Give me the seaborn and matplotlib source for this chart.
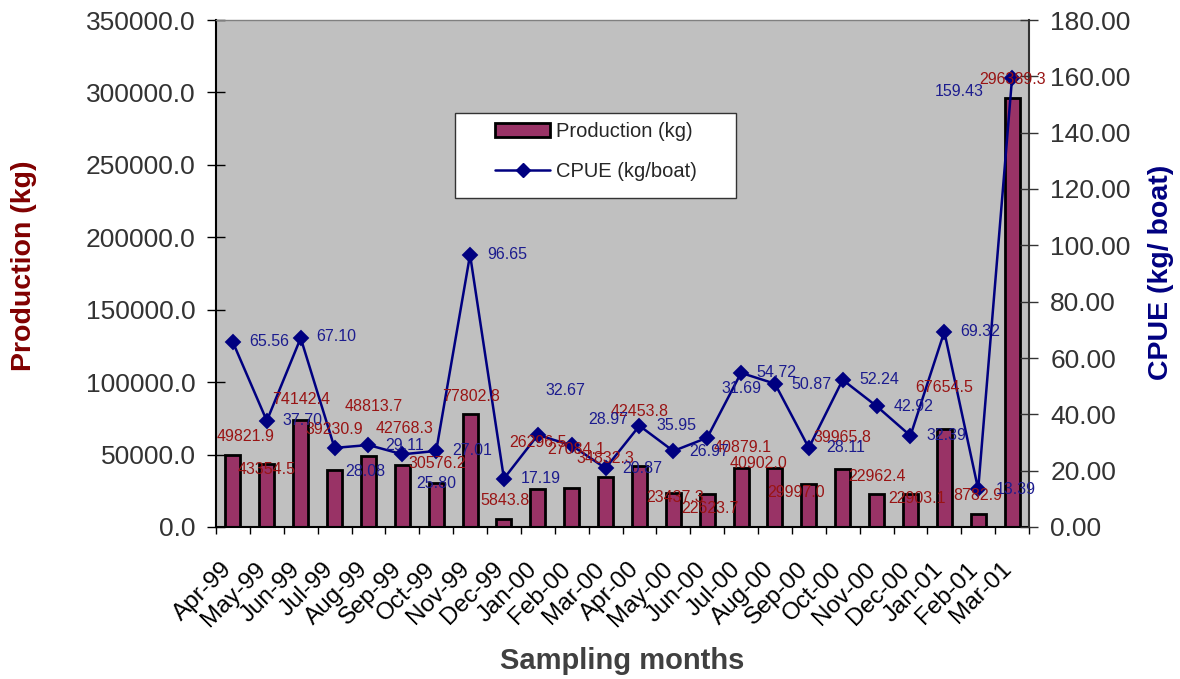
import matplotlib
matplotlib.use("Agg")
import matplotlib.pyplot as plt
import matplotlib.transforms as mtransforms
from matplotlib.patches import Patch, Rectangle
from matplotlib.lines import Line2D
from matplotlib.ticker import FixedLocator, FormatStrFormatter
import pandas as pd
import seaborn as sns

# ---- data ----
months = ["Apr-99", "May-99", "Jun-99", "Jul-99", "Aug-99", "Sep-99", "Oct-99",
          "Nov-99", "Dec-99", "Jan-00", "Feb-00", "Mar-00", "Apr-00", "May-00",
          "Jun-00", "Jul-00", "Aug-00", "Sep-00", "Oct-00", "Nov-00", "Dec-00",
          "Jan-01", "Feb-01", "Mar-01"]
production_kg = [49821.9, 43354.5, 74142.4, 39230.9, 48813.7, 42768.3, 30576.2,
                 77802.8, 5843.8, 26296.5, 27084.1, 34832.3, 42453.8, 23437.3,
                 22623.7, 40879.1, 40902.0, 29997.0, 39965.8, 22962.4, 22903.1,
                 67654.5, 8782.9, 296389.3]
cpue_kg_boat = [65.56, 37.70, 67.10, 28.08, 29.11, 25.80, 27.01, 96.65, 17.19,
                32.67, 28.97, 20.87, 35.95, 26.97, 31.69, 54.72, 50.87, 28.11,
                52.24, 42.92, 32.39, 69.32, 13.39, 159.43]
prod_ticks = [0, 50000, 100000, 150000, 200000, 250000, 300000, 350000]
cpue_ticks = [0, 20, 40, 60, 80, 100, 120, 140, 160, 180]

# data-label placement (pixel offsets from each mark)
prod_label_offsets = [(13, 18), (0, -5), (0, 20), (0, 41), (5, 50), (2, 37),
                      (1, 19), (1, 18), (1, 18), (0, 46), (5, 38), (0, 18),
                      (0, 54), (2, -4), (3, -14), (2, 20), (-16, 4), (-13, -9),
                      (0, 32), (0, 17), (7, -5), (0, 41), (0, 19), (1, 18)]
cpue_label_offsets = [(36, 1), (36, 0), (36, 1.5), (31, -24), (36, 0),
                      (33.5, -29), (36, 0), (37, 0), (37, 0), (28, 44),
                      (36.5, 26), (37, 0), (37, 0), (36, 0), (34, 49),
                      (35.5, 0), (36.5, -1), (37, 0), (37, 0), (37, 0),
                      (36, 0), (36, 0), (37.5, 0), (-53, -13.5)]

df = pd.DataFrame({"month": months, "production": production_kg,
                   "cpue": cpue_kg_boat})

BAR = "#993366"
NAVY = "#000080"
DARKRED = "#800000"
PROD_TXT = "#991414"
CPUE_TXT = "#1c1c8e"

sns.set_theme(style="white")
plt.rcParams["font.family"] = ["Liberation Sans", "DejaVu Sans"]

W, H = 1180, 679
fig = plt.figure(figsize=(W / 100, H / 100), dpi=100)
ax = fig.add_axes([216 / W, 1 - 527 / H, 813 / W, 507 / H])
ax.set_facecolor("#C0C0C0")

sns.barplot(data=df, x="month", y="production", ax=ax, color=BAR,
            saturation=1, edgecolor="black", linewidth=2, width=0.44)

ax2 = ax.twinx()
sns.pointplot(data=df, x="month", y="cpue", ax=ax2, color=NAVY,
              markers="D", linestyles="-", errorbar=None,
              markersize=7, linewidth=1.8)

n = len(months)
for a in (ax, ax2):
    a.set_xlim(-0.5, n - 0.5)
ax.set_ylim(0, 350000)
ax2.set_ylim(0, 180)

# y axes
ax.yaxis.set_major_locator(FixedLocator(prod_ticks))
ax.yaxis.set_major_formatter(FormatStrFormatter("%.1f"))
ax2.yaxis.set_major_locator(FixedLocator(cpue_ticks))
ax2.yaxis.set_major_formatter(FormatStrFormatter("%.2f"))
ax.tick_params(axis="y", direction="inout", length=12.5, width=1,
               color="black", labelsize=19, labelcolor="#333333", pad=8.5,
               left=True)
ax2.tick_params(axis="y", direction="inout", length=12.5, width=1,
                color="#333333", labelsize=19, labelcolor="#333333", pad=9,
                right=True)

# x axis: labels at category centres, tick marks at category boundaries
ax.set_xticks(range(n))
ax.set_xticklabels(months, rotation=45, ha="right", va="center",
                   rotation_mode="anchor", fontsize=17.5, color="black")
ax.tick_params(axis="x", which="major", length=0, pad=28)
ax.set_xticks([i - 0.5 for i in range(n + 1)], minor=True)
ax.tick_params(axis="x", which="minor", direction="out", length=5,
               width=1, color="black", bottom=True)
shift = mtransforms.ScaledTranslation(-4 / 100, 0, fig.dpi_scale_trans)
for lbl in ax.get_xticklabels():
    lbl.set_transform(lbl.get_transform() + shift)
ax2.tick_params(axis="x", which="both", bottom=False, labelbottom=False)
ax2.set_xlabel("")

for s in ax.spines.values():
    s.set_visible(True)
ax.spines["left"].set_color("black")
ax.spines["left"].set_linewidth(1.5)
ax.spines["bottom"].set_color("black")
ax.spines["bottom"].set_linewidth(1.5)
ax.spines["top"].set_color("#808080")
ax.spines["top"].set_linewidth(1)
ax.spines["right"].set_color("#333333")
ax2.spines["right"].set_color("#333333")
ax2.spines["right"].set_linewidth(1.5)
ax2.spines["left"].set_visible(False)
ax2.spines["top"].set_visible(False)
ax2.spines["bottom"].set_visible(False)
ax.grid(False)
ax2.grid(False)

# axis titles
ax.set_xlabel("Sampling months", fontsize=21, fontweight="bold",
              color="#404040", va="center")
ax.xaxis.set_label_coords(0.5, (527 - 661) / 507)
ax.set_ylabel("Production (kg)", fontsize=20.5, fontweight="bold",
              color=DARKRED, va="center")
ax.yaxis.set_label_coords((24 - 216) / 813, 1 - (266 - 20) / 507)
ax2.set_ylabel("CPUE (kg/ boat)", fontsize=20.5, fontweight="bold",
               color=NAVY, va="center", rotation=90)
ax2.yaxis.set_label_coords((1161.5 - 216) / 813, 1 - (272 - 20) / 507)

# data labels
to_ax2 = lambda v: v / 350000 * 180
for i, (v, (dx, dy)) in enumerate(zip(production_kg, prod_label_offsets)):
    ax2.annotate(f"{v:.1f}", xy=(i, to_ax2(v)), xytext=(dx, dy),
                 textcoords="offset pixels", ha="center", va="center",
                 fontsize=11.5, color=PROD_TXT, zorder=6)
for i, (v, (dx, dy)) in enumerate(zip(cpue_kg_boat, cpue_label_offsets)):
    ax2.annotate(f"{v:.2f}", xy=(i, v), xytext=(dx, dy),
                 textcoords="offset pixels", ha="center", va="center",
                 fontsize=11.5, color=CPUE_TXT, zorder=6)

# legend box
fig.add_artist(Rectangle((455 / W, 1 - 198 / H), 281 / W, 85 / H,
                         transform=fig.transFigure, facecolor="white",
                         edgecolor="#333333", linewidth=1, zorder=4))
handles = [Patch(facecolor=BAR, edgecolor="black", linewidth=2),
           Line2D([], [], color=NAVY, lw=1.8, marker="D", ms=7)]
leg = fig.legend(handles=handles, labels=["Production (kg)", "CPUE (kg/boat)"],
                 loc="upper left", bbox_to_anchor=(495 / W, 1 - 122 / H),
                 frameon=False, borderpad=0, borderaxespad=0, fontsize=14.5,
                 handlelength=2.75, handletextpad=0.3, labelspacing=1.05)
leg.set_zorder(5)

fig.savefig("out.png", dpi=100, facecolor="white")
